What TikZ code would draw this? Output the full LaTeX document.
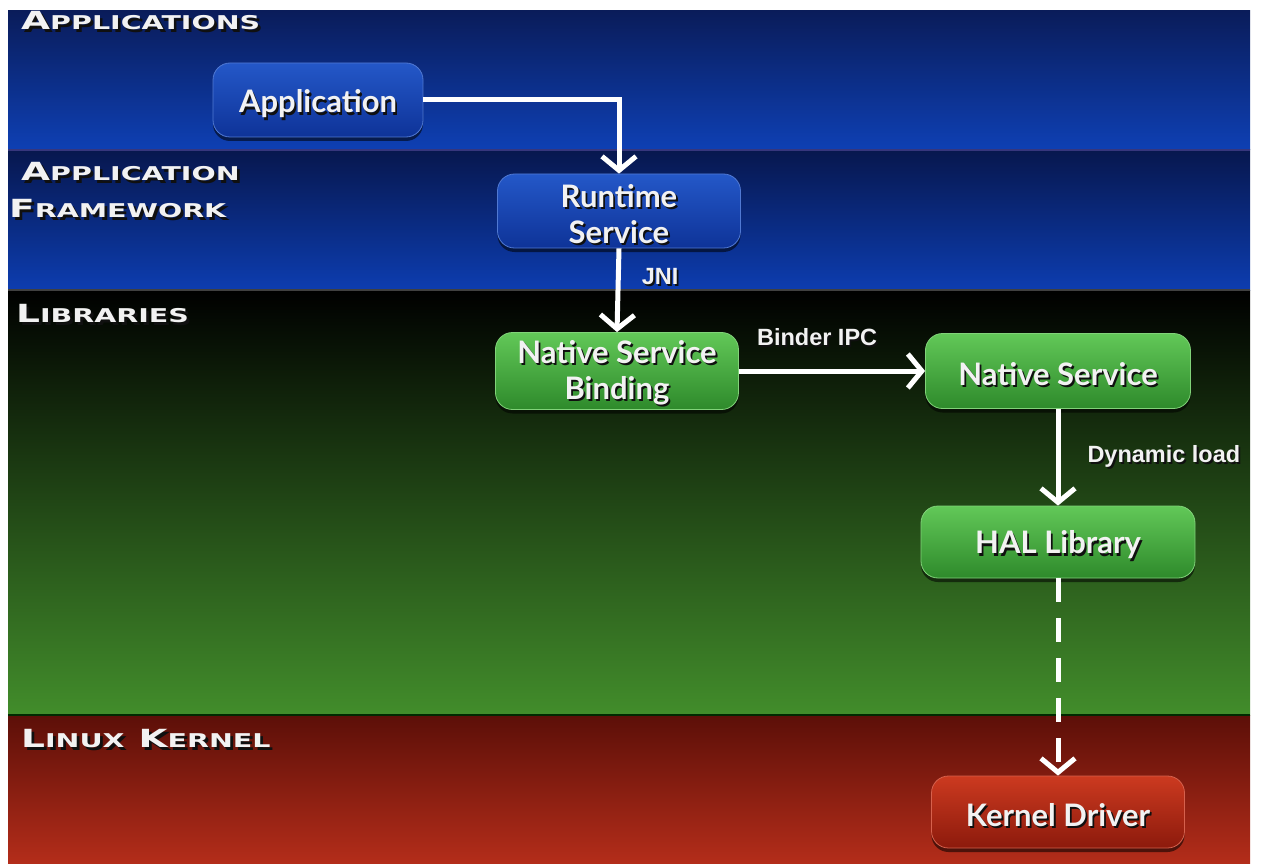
\documentclass[tikz,border=0pt]{standalone}
\usepackage{fontspec}
\usepackage{graphicx}
\usetikzlibrary{arrows.meta,shadows}
\setmainfont{Lato}
\newfontfamily\edgefont{Liberation Sans}
\newfontfamily\layerfont{DejaVu Sans}

\definecolor{appTop}{HTML}{0A1C5A}
\definecolor{appBot}{HTML}{0E40B4}
\definecolor{fwTop}{HTML}{07174E}
\definecolor{fwBot}{HTML}{0D3DB0}
\definecolor{libTop}{HTML}{000000}
\definecolor{libBot}{HTML}{428D2B}
\definecolor{kerTop}{HTML}{5C0F08}
\definecolor{kerBot}{HTML}{B42D1A}
\definecolor{blueTop}{HTML}{2458C8}
\definecolor{blueBot}{HTML}{0E3398}
\definecolor{greenTop}{HTML}{62C858}
\definecolor{greenBot}{HTML}{2E8A2B}
\definecolor{redTop}{HTML}{CC3A20}
\definecolor{redBot}{HTML}{8C1A0C}
\definecolor{txtShadow}{HTML}{101010}
\definecolor{txtWhite}{HTML}{F2F2F2}

% white text with a small dark drop shadow
\newcommand\sh[1]{\rlap{\kern1.8pt\raisebox{-2.2pt}{\textcolor{txtShadow}{#1}}}#1}
% layer headings: wide pseudo small caps
\newcommand\lh[2]{\scalebox{1.5}[1]{\layerfont\bfseries\sh{{\fontsize{25}{25}\selectfont #1}{\fontsize{19}{19}\selectfont #2}}}}

\tikzset{
  layerlabel/.style={anchor=west, text=txtWhite, inner sep=0pt},
  box/.style={rounded corners=17pt, line width=0.8pt, inner sep=0pt,
    drop shadow={shadow xshift=0pt, shadow yshift=-4pt, opacity=.55, fill=black}},
  boxtext/.style={text=txtWhite, align=center, inner sep=0pt,
    font=\bfseries\fontsize{31}{36}\selectfont},
  bluebox/.style={box, top color=blueTop, bottom color=blueBot, draw=blueTop!80!white},
  greenbox/.style={box, top color=greenTop, bottom color=greenBot, draw=greenTop!80!white},
  redbox/.style={box, top color=redTop, bottom color=redBot, draw=redTop!80!white},
  flow/.style={draw=white, line width=5pt, -{Straight Barb[length=14pt,width=34pt]}},
  dashflow/.style={flow, dash pattern=on 24pt off 16pt},
  edgelabel/.style={text=txtWhite, font=\edgefont\bfseries\fontsize{23.5}{23.5}\selectfont, inner sep=0pt}
}

\begin{document}
\begin{tikzpicture}[x=1pt, y=-1pt]
  \useasboundingbox (0,0) rectangle (1262,864);
  \fill[white] (0,0) rectangle (1262,864);

  % layer bands
  \shade[top color=appTop, bottom color=appBot] (8,11) rectangle (1250,150);
  \shade[top color=fwTop, bottom color=fwBot] (8,150) rectangle (1250,290);
  \shade[top color=libTop, bottom color=libBot] (8,290) rectangle (1250,715);
  \shade[top color=kerTop, bottom color=kerBot] (8,715) rectangle (1250,864);
  \draw[line width=2pt, draw=gray!60!blue!70!black] (8,150) -- (1250,150);
  \draw[line width=2pt, draw=black!75] (8,290) -- (1250,290);
  \draw[line width=2pt, draw=black!60!green!40!black] (8,715) -- (1250,715);

  % layer headings
  \node[layerlabel] (lApp) at (21,22) {\lh{A}{PPLICATIONS}};
  \node[layerlabel] (lFw1) at (21,173) {\lh{A}{PPLICATION}};
  \node[layerlabel] (lFw2) at (9,210) {\lh{F}{RAMEWORK}};
  \node[layerlabel] (lLib) at (16,315) {\lh{L}{IBRARIES}};
  \node[layerlabel] (lKer) at (21,740) {\lh{L}{INUX}\hspace{14pt}\lh{K}{ERNEL}};

  % components
  \node[bluebox, minimum width=210pt, minimum height=74pt] (app) at (318,100) {};
  \node[bluebox, minimum width=243pt, minimum height=74pt] (rt) at (619,211) {};
  \node[greenbox, minimum width=243pt, minimum height=77pt] (nsb) at (617,371) {};
  \node[greenbox, minimum width=265pt, minimum height=75pt] (ns) at (1058,371) {};
  \node[greenbox, minimum width=274pt, minimum height=72pt] (hal) at (1058,542) {};
  \node[redbox, minimum width=253pt, minimum height=72pt] (kd) at (1058,812) {};

  % component names
  \node[boxtext] (appT) at ([yshift=-5pt]app.center) {\sh{Application}};
  \node[boxtext] (rtT) at ([yshift=-4pt]rt.center) {\sh{Runtime}\\\sh{Service}};
  \node[boxtext] (nsbT) at ([yshift=-3pt]nsb.center) {\sh{Native Service}\\\sh{Binding}};
  \node[boxtext] (nsT) at ([yshift=-4pt]ns.center) {\sh{Native Service}};
  \node[boxtext] (halT) at ([yshift=-4pt]hal.center) {\sh{HAL Library}};
  \node[boxtext] (kdT) at ([yshift=-4pt]kd.center) {\sh{Kernel Driver}};

  % connectors
  \draw[flow] (app.east) -| (rt.north);
  \draw[flow] (rt.south) -- (nsb.north)
    node[edgelabel, pos=0.35, right=21pt] (jni) {\sh{JNI}};
  \draw[flow] (nsb.east) -- (ns.west)
    node[edgelabel, pos=0.42, above=21pt] (ipc) {\sh{Binder IPC}};
  \draw[flow] (ns.south) -- (hal.north)
    node[edgelabel, pos=0.5, right=27pt] (dyn) {\sh{Dynamic load}};
  \draw[dashflow] (hal.south) -- (kd.north);
\end{tikzpicture}
\end{document}
